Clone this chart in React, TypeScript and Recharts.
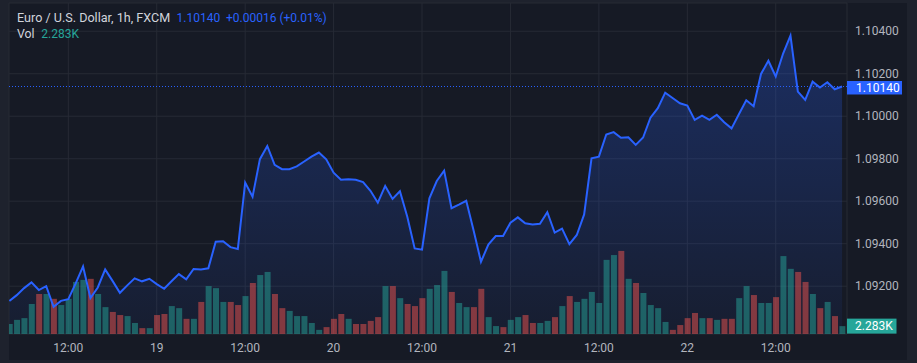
import React from 'react';
import {
  ComposedChart,
  Area,
  Line,
  Bar,
  Cell,
  XAxis,
  YAxis,
  CartesianGrid,
  ReferenceLine,
} from 'recharts';

// ---------- data ----------
const closes = [
  1.09131, 1.09158, 1.09191, 1.09218, 1.09182, 1.092, 1.09103, 1.09131, 1.09139, 1.09213,
  1.09293, 1.09144, 1.09194, 1.09279, 1.09225, 1.09169, 1.09204, 1.09237, 1.09223, 1.09235,
  1.0921, 1.09188, 1.09223, 1.09257, 1.09232, 1.09281, 1.09279, 1.09284, 1.09409, 1.09412,
  1.09384, 1.09375, 1.09688, 1.09621, 1.09798, 1.0986, 1.09771, 1.09751, 1.09751, 1.09764,
  1.09787, 1.0981, 1.09829, 1.09797, 1.09734, 1.09701, 1.09703, 1.09701, 1.0969, 1.09649,
  1.09593, 1.09672, 1.09611, 1.09647, 1.09527, 1.09378, 1.09372, 1.09614, 1.09695, 1.09744,
  1.09567, 1.09584, 1.09602, 1.09462, 1.09315, 1.09396, 1.09436, 1.09436, 1.09499, 1.09524,
  1.09496, 1.09491, 1.09494, 1.09548, 1.09452, 1.09471, 1.09398, 1.09441, 1.09538, 1.09802,
  1.0981, 1.09914, 1.09925, 1.09899, 1.09901, 1.09865, 1.099, 1.09993, 1.10038, 1.10111,
  1.10086, 1.10061, 1.1005, 1.09983, 1.10003, 1.09983, 1.10007, 1.09972, 1.09943, 1.10009,
  1.10075, 1.10047, 1.10199, 1.10261, 1.10187, 1.10295, 1.1038, 1.10116, 1.10077, 1.10163,
  1.10135, 1.1016, 1.10127, 1.1014,
];

// volume in thousands
const volumes = [
  2.9, 4.1, 4.6, 8.7, 11.6, 11.6, 10.2, 8.4, 10.2, 15.1,
  15.7, 16.0, 11.6, 7.8, 6.4, 5.5, 5.2, 3.2, 1.7, 1.7,
  5.5, 5.8, 8.1, 7.5, 4.4, 4.4, 9.3, 13.9, 13.3, 9.3,
  9.3, 8.4, 11.0, 14.8, 17.1, 18.0, 11.6, 7.5, 6.7, 5.2,
  5.2, 3.2, 1.2, 2.0, 4.4, 5.8, 4.4, 2.9, 2.9, 3.8,
  4.9, 13.9, 13.9, 10.4, 8.7, 8.1, 10.4, 13.1, 14.2, 18.3,
  12.2, 9.0, 7.8, 7.8, 13.1, 4.9, 2.3, 2.0, 4.1, 4.9,
  5.5, 3.2, 3.2, 3.8, 4.9, 8.1, 11.0, 9.3, 10.2, 12.2,
  9.0, 21.5, 22.9, 24.1, 16.0, 14.8, 11.9, 8.4, 7.5, 3.5,
  1.2, 2.6, 4.6, 6.1, 4.6, 4.6, 4.1, 4.4, 4.4, 10.4,
  13.9, 11.3, 9.0, 9.0, 10.7, 22.6, 18.9, 18.0, 15.1, 11.6,
  7.5, 9.3, 5.2, 2.283,
];

// 1 = up (teal) volume bar, 0 = down (red)
const volumeUp = [
  1, 1, 1, 1, 0, 1, 0, 1, 1, 1,
  1, 0, 1, 1, 0, 0, 1, 1, 0, 1,
  0, 0, 1, 1, 0, 1, 0, 1, 1, 1,
  0, 0, 1, 0, 1, 1, 0, 0, 1, 1,
  1, 1, 1, 0, 0, 0, 1, 0, 0, 0,
  0, 1, 0, 1, 0, 0, 0, 1, 1, 1,
  0, 1, 1, 0, 0, 1, 1, 0, 1, 1,
  0, 0, 1, 1, 0, 1, 0, 1, 1, 1,
  1, 1, 1, 0, 1, 0, 1, 1, 1, 1,
  0, 0, 0, 0, 1, 0, 1, 0, 0, 1,
  1, 0, 1, 1, 0, 1, 1, 0, 0, 1,
  0, 1, 0, 1,
];

const xTickIndex = [8, 20, 32, 44, 56, 68, 80, 92, 104];
const xTickLabels = ['12:00', '19', '12:00', '20', '12:00', '21', '12:00', '22', '12:00'];
const priceTicks = [1.092, 1.094, 1.096, 1.098, 1.1, 1.102, 1.104];

const symbolTitle = 'Euro / U.S. Dollar, 1h, FXCM';
const lastPriceText = '1.10140';
const changeText = '+0.00016 (+0.01%)';
const volTitle = 'Vol';
const lastVolumeText = '2.283K';
const lastPrice = 1.1014;
const lastVolume = 2.283;

// ---------- styles ----------
const FONT = "Roboto, 'Noto Sans', 'DejaVu Sans', sans-serif";
const BLUE = '#2962ff';
const TEAL = '#26a69a';
const RED = '#ef5350';
const TEXT = '#d1d4dc';
const AXIS_TEXT = '#b2b5be';
const PANE_BG = '#161a25';
const OUTER_BG = '#1e222d';
const GRID = '#262a35';

const data = closes.map((c, i) => ({
  i,
  close: c,
  vol: volumes[i],
  up: volumeUp[i],
}));

const XTick = (props: any) => {
  const { x, y, payload } = props;
  const k = xTickIndex.indexOf(payload.value);
  return (
    <text x={x} y={y} textAnchor="middle" fill={AXIS_TEXT} fontSize={12} fontFamily={FONT}>
      {k >= 0 ? xTickLabels[k] : ''}
    </text>
  );
};

const YTick = (props: any) => {
  const { x, y, payload } = props;
  return (
    <text x={x} y={y + 4} textAnchor="start" fill={AXIS_TEXT} fontSize={12} fontFamily={FONT}>
      {Number(payload.value).toFixed(5)}
    </text>
  );
};

const PriceLabel = (props: any) => {
  const vb = props.viewBox || {};
  const x = (vb.x || 0) + (vb.width || 0);
  const y = vb.y || 0;
  return (
    <g>
      <rect x={x} y={y - 5.5} width={55} height={13.5} fill={BLUE} />
      <text x={x + 9} y={y + 5.5} fill="#ffffff" fontSize={12} fontFamily={FONT}>
        {lastPriceText}
      </text>
    </g>
  );
};

const VolLabel = (props: any) => {
  const vb = props.viewBox || {};
  const x = (vb.x || 0) + (vb.width || 0);
  const y = vb.y || 0;
  return (
    <g>
      <rect x={x} y={y - 7.5} width={49.5} height={15} fill={TEAL} />
      <text x={x + 8} y={y + 4.3} fill="#ffffff" fontSize={12} fontFamily={FONT}>
        {lastVolumeText}
      </text>
    </g>
  );
};

export default function App() {
  return (
    <div
      style={{
        position: 'fixed',
        left: 0,
        top: 0,
        width: 917,
        height: 363,
        background: OUTER_BG,
        overflow: 'hidden',
      }}
    >
      <div
        style={{
          position: 'absolute',
          left: 9,
          top: 3,
          width: 898,
          height: 357,
          background: PANE_BG,
        }}
      />
      <div style={{ position: 'absolute', left: 0, top: 0 }}>
        <ComposedChart
          width={917}
          height={363}
          data={data}
          margin={{ top: 3, right: 0, bottom: 0, left: 9 }}
        >
          <defs>
            <linearGradient id="areaFill" x1="0" y1="0" x2="0" y2="1">
              <stop offset="0%" stopColor={BLUE} stopOpacity={0.28} />
              <stop offset="100%" stopColor={BLUE} stopOpacity={0.05} />
            </linearGradient>
          </defs>
          <CartesianGrid yAxisId="price" stroke={GRID} strokeWidth={1} />
          <XAxis
            dataKey="i"
            type="number"
            domain={[-0.05, 113.67]}
            allowDataOverflow
            ticks={xTickIndex}
            interval={0}
            height={29}
            tickSize={0}
            tickMargin={18}
            axisLine={false}
            tickLine={false}
            tick={<XTick />}
          />
          <YAxis
            yAxisId="price"
            orientation="right"
            type="number"
            domain={[1.08975, 1.10533]}
            allowDataOverflow
            ticks={priceTicks}
            interval={0}
            width={70}
            tickSize={0}
            tickMargin={8}
            axisLine={false}
            tickLine={false}
            tick={<YTick />}
          />
          <YAxis yAxisId="vol" hide type="number" domain={[0, 96]} allowDataOverflow />
          <Area
            yAxisId="price"
            dataKey="close"
            type="linear"
            stroke="none"
            fill="url(#areaFill)"
            fillOpacity={1}
            isAnimationActive={false}
            dot={false}
            activeDot={false}
          />
          <Bar yAxisId="vol" dataKey="vol" barSize={6} isAnimationActive={false}>
            {data.map((d, k) => (
              <Cell key={k} fill={d.up ? TEAL : RED} fillOpacity={0.5} />
            ))}
          </Bar>
          <Line
            yAxisId="price"
            dataKey="close"
            type="linear"
            stroke={BLUE}
            strokeWidth={2}
            dot={false}
            activeDot={false}
            isAnimationActive={false}
          />
          <ReferenceLine
            yAxisId="price"
            y={lastPrice}
            stroke={BLUE}
            strokeWidth={1}
            strokeDasharray="1 2"
            label={<PriceLabel />}
          />
          <ReferenceLine
            yAxisId="vol"
            y={lastVolume}
            stroke="none"
            label={<VolLabel />}
          />
        </ComposedChart>
      </div>
      <svg
        width={917}
        height={60}
        style={{ position: 'absolute', left: 0, top: 0, pointerEvents: 'none' }}
      >
        <text x={17} y={22} fontSize={12.6} fontFamily={FONT} fill={TEXT}>
          {symbolTitle}
        </text>
        <text x={176.5} y={22} fontSize={12} fontFamily={FONT} fill={BLUE}>
          {lastPriceText}
        </text>
        <text x={226} y={22} fontSize={12} fontFamily={FONT} fill={BLUE}>
          {changeText}
        </text>
        <text x={17} y={37.5} fontSize={12.3} fontFamily={FONT} fill={TEXT}>
          {volTitle}
        </text>
        <text x={41.3} y={37.5} fontSize={12} fontFamily={FONT} fill={TEAL}>
          {lastVolumeText}
        </text>
      </svg>
    </div>
  );
}
